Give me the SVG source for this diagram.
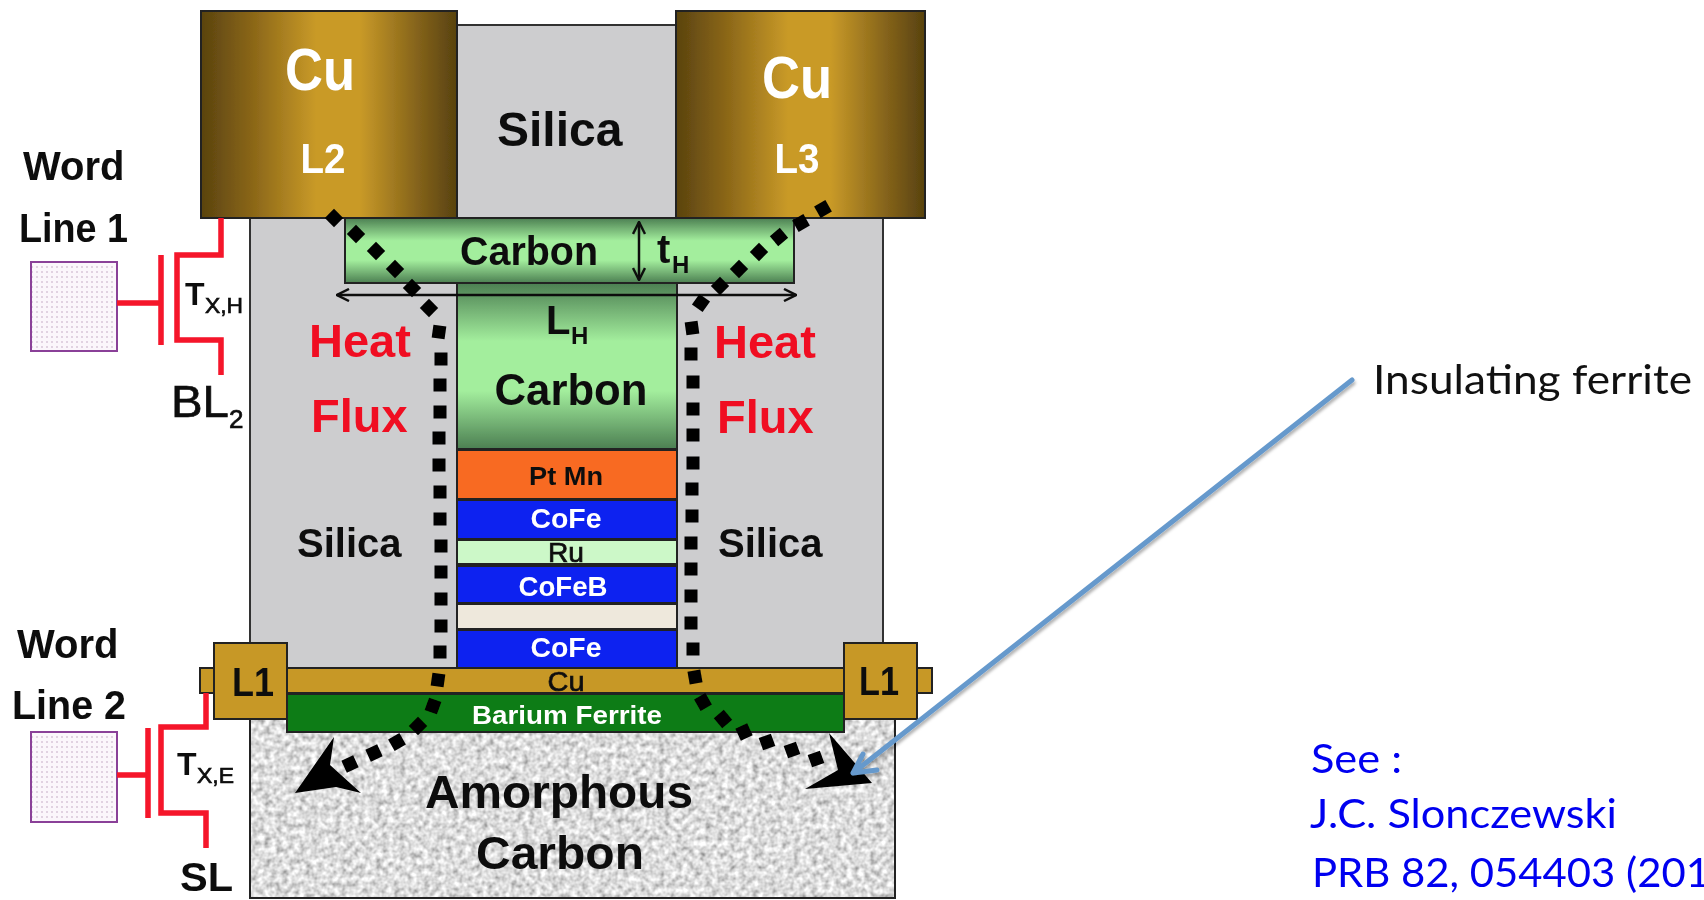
<svg xmlns="http://www.w3.org/2000/svg" xmlns:xlink="http://www.w3.org/1999/xlink" width="1704" height="900" viewBox="0 0 1704 900">
<style>
text{font-family:"Liberation Sans",Arial,sans-serif;font-weight:bold;fill:#111}
.w{fill:#fff}
.r{fill:#f01020}
.med{font-weight:normal;stroke:#111;stroke-width:.7}
.c{font-family:Lato,"Open Sans",sans-serif;font-weight:normal;font-size:40px}
.b{fill:#0000f0}
.m{text-anchor:middle}
.edge{stroke:#222;stroke-width:2}
.red{fill:none;stroke:#f5142a;stroke-width:5.5}
.dim{fill:none;stroke:#111;stroke-width:2.5}
.d{fill:#000}
</style>
<defs>
<linearGradient id="cu"><stop offset="0" stop-color="#5a430f"/><stop offset=".2" stop-color="#8a6618"/><stop offset=".45" stop-color="#c99a28"/><stop offset=".62" stop-color="#c99a28"/><stop offset=".85" stop-color="#83621a"/><stop offset="1" stop-color="#58420f"/></linearGradient>
<linearGradient id="gr" x2="0" y2="1"><stop offset="0" stop-color="#4c7f52"/><stop offset=".35" stop-color="#a3ee9d"/><stop offset=".65" stop-color="#a3ee9d"/><stop offset="1" stop-color="#4c7f52"/></linearGradient>
<pattern id="dots" width="5" height="5" patternUnits="userSpaceOnUse"><rect width="5" height="5" fill="#fbf6fb"/><circle cx="2" cy="2" r="1" fill="#d9c6d9"/></pattern>
<filter id="noise" x="0" y="0" width="100%" height="100%"><feTurbulence type="fractalNoise" baseFrequency=".17" numOctaves="2" seed="4"/><feColorMatrix values="1.1 0 0 0 .17 1.1 0 0 0 .17 1.1 0 0 0 .17 0 0 0 0 1"/></filter>
<filter id="soft" x="0" y="0" width="100%" height="100%" filterUnits="userSpaceOnUse" primitiveUnits="userSpaceOnUse"><feGaussianBlur stdDeviation=".6"/></filter>
<filter id="shadow" x="-5%" y="-5%" width="110%" height="110%"><feDropShadow dx="1" dy="3" stdDeviation="1.5" flood-color="#000" flood-opacity=".3"/></filter>
<rect id="p" x="-6.5" y="-6.5" width="13" height="13"/>
<marker id="open" markerWidth="14" markerHeight="14" refX="13" refY="7" orient="auto-start-reverse" markerUnits="userSpaceOnUse"><path d="M1 1L13 7L1 13" fill="none" stroke="#111" stroke-width="2.5"/></marker>
</defs>
<rect width="1704" height="900" fill="#fff"/>
<g id="figure" filter="url(#soft)">
<g id="silica-main"><rect x="250" y="218" width="633" height="455" fill="#cdcdcf" stroke="#333" stroke-width="2"/><text x="297" y="557" font-size="40">Silica</text><text x="718" y="557" font-size="40">Silica</text></g>
<g id="silica-top"><rect x="457" y="25" width="219" height="193" fill="#cdcdcf" stroke="#333" stroke-width="2"/><text x="497" y="146" font-size="48">Silica</text></g>
<g id="amorphous-carbon"><rect x="250" y="719" width="645" height="179" filter="url(#noise)"/><rect x="250" y="719" width="645" height="179" fill="none" stroke="#222" stroke-width="2"/><text x="425" y="808" font-size="47" textLength="268" lengthAdjust="spacingAndGlyphs">Amorphous</text><text x="476" y="869" font-size="47" textLength="168" lengthAdjust="spacingAndGlyphs">Carbon</text></g>
<g id="cu-l2"><rect x="201" y="11" width="256" height="207" fill="url(#cu)" class="edge"/><text x="320" y="90" font-size="60" class="w m" textLength="70" lengthAdjust="spacingAndGlyphs">Cu</text><text x="323" y="173" font-size="42" class="w m" textLength="45" lengthAdjust="spacingAndGlyphs">L2</text></g>
<g id="cu-l3"><rect x="676" y="11" width="249" height="207" fill="url(#cu)" class="edge"/><text x="797" y="98" font-size="60" class="w m" textLength="70" lengthAdjust="spacingAndGlyphs">Cu</text><text x="797" y="173" font-size="42" class="w m" textLength="45" lengthAdjust="spacingAndGlyphs">L3</text></g>
<g id="carbon-center"><rect x="457" y="283" width="220" height="166" fill="url(#gr)" class="edge"/><text x="571" y="405" font-size="44" class="m" textLength="153" lengthAdjust="spacingAndGlyphs">Carbon</text><text x="546" y="334" font-size="40">L</text><text x="571" y="344" font-size="24">H</text></g>
<g id="carbon-top"><rect x="345" y="218" width="449" height="65" fill="url(#gr)" class="edge"/><text x="460" y="265" font-size="40" textLength="138" lengthAdjust="spacingAndGlyphs">Carbon</text><text x="657" y="263" font-size="40">t</text><text x="672" y="273" font-size="24">H</text></g>
<g id="pt-mn"><rect x="457" y="450" width="220" height="49" fill="#f86a20" class="edge"/><text x="566" y="485" font-size="26" class="m" textLength="74" lengthAdjust="spacingAndGlyphs">Pt Mn</text></g>
<g id="cofe-1"><rect x="457" y="500" width="220" height="39" fill="#0a20f0" class="edge"/><text x="566" y="528" font-size="28" class="w m" textLength="71" lengthAdjust="spacingAndGlyphs">CoFe</text></g>
<g id="ru"><rect x="457" y="540" width="220" height="24" fill="#ccf8c8" class="edge"/><text x="566" y="562" font-size="27" class="m med" textLength="36" lengthAdjust="spacingAndGlyphs">Ru</text></g>
<g id="cofeb"><rect x="457" y="566" width="220" height="37" fill="#0a20f0" class="edge"/><text x="563" y="596" font-size="28" class="w m" textLength="89" lengthAdjust="spacingAndGlyphs">CoFeB</text></g>
<g id="spacer"><rect x="457" y="604" width="220" height="25" fill="#eee8dc" class="edge"/></g>
<g id="cofe-2"><rect x="457" y="630" width="220" height="38" fill="#0a20f0" class="edge"/><text x="566" y="657" font-size="28" class="w m" textLength="71" lengthAdjust="spacingAndGlyphs">CoFe</text></g>
<g id="cu-strip"><rect x="200" y="668" width="732" height="25" fill="#c79826" class="edge"/><text x="566" y="691" font-size="27" class="m med" textLength="37" lengthAdjust="spacingAndGlyphs">Cu</text></g>
<g id="barium-ferrite"><rect x="287" y="694" width="557" height="38" fill="#107c12" class="edge"/><text x="472" y="724" font-size="26" class="w" textLength="190" lengthAdjust="spacingAndGlyphs">Barium Ferrite</text></g>
<g id="l1-left"><rect x="214" y="643" width="73" height="76" fill="#c79826" class="edge"/><text x="232" y="696" font-size="41" textLength="42" lengthAdjust="spacingAndGlyphs">L1</text></g>
<g id="l1-right"><rect x="844" y="643" width="73" height="76" fill="#c79826" class="edge"/><text x="859" y="695" font-size="41" textLength="40" lengthAdjust="spacingAndGlyphs">L1</text></g>
<g id="word-line-1"><text x="23" y="180" font-size="40">Word</text><text x="19" y="242" font-size="40" textLength="109" lengthAdjust="spacingAndGlyphs">Line 1</text><rect x="31" y="262" width="86" height="89" fill="url(#dots)" stroke="#8a3f98" stroke-width="2"/></g>
<g id="word-line-2"><text x="17" y="658" font-size="40">Word</text><text x="12" y="719" font-size="40" textLength="114" lengthAdjust="spacingAndGlyphs">Line 2</text><rect x="31" y="732" width="86" height="90" fill="url(#dots)" stroke="#8a3f98" stroke-width="2"/></g>
<g id="labels-left">
<text x="185" y="305" font-size="32">T</text><text x="205" y="313" font-size="22" class="med" textLength="38" lengthAdjust="spacingAndGlyphs">X,H</text>
<text x="171" y="417" font-size="44" class="med" textLength="58" lengthAdjust="spacingAndGlyphs">BL</text><text x="229" y="428" font-size="26" class="med">2</text>
<text x="177" y="775" font-size="32">T</text><text x="197" y="783" font-size="22" class="med" textLength="37" lengthAdjust="spacingAndGlyphs">X,E</text>
<text x="180" y="891" font-size="40" textLength="53" lengthAdjust="spacingAndGlyphs">SL</text>
</g>
<g id="heat-flux"><text x="309" y="357" font-size="47" class="r">Heat</text><text x="311" y="432" font-size="47" class="r">Flux</text><text x="714" y="358" font-size="47" class="r">Heat</text><text x="717" y="433" font-size="47" class="r">Flux</text></g>
<g id="connectors">
<path class="red" d="M221 218V255H177V340H221V375"/><path class="red" d="M161 255V345M117 303H161"/>
<path class="red" d="M206 693V727H161V813H206V848"/><path class="red" d="M148 728V818M117 775H148"/>
<path class="dim" d="M337 295H796" marker-start="url(#open)" marker-end="url(#open)"/>
<path class="dim" d="M639 222V280" marker-start="url(#open)" marker-end="url(#open)"/>
<g id="flux-left" class="d">
<use xlink:href="#p" transform="translate(334 218) rotate(45)"/><use xlink:href="#p" transform="translate(356 234) rotate(45)"/><use xlink:href="#p" transform="translate(376 251) rotate(45)"/><use xlink:href="#p" transform="translate(395 269) rotate(45)"/><use xlink:href="#p" transform="translate(412 288) rotate(45)"/><use xlink:href="#p" transform="translate(429 308) rotate(45)"/><use xlink:href="#p" transform="translate(439 332) rotate(8)"/><use xlink:href="#p" transform="translate(441 359)"/><use xlink:href="#p" transform="translate(440 385)"/><use xlink:href="#p" transform="translate(440 412)"/><use xlink:href="#p" transform="translate(439 438)"/><use xlink:href="#p" transform="translate(439 465)"/><use xlink:href="#p" transform="translate(440 492)"/><use xlink:href="#p" transform="translate(440 519)"/><use xlink:href="#p" transform="translate(441 546)"/><use xlink:href="#p" transform="translate(441 572)"/><use xlink:href="#p" transform="translate(441 599)"/><use xlink:href="#p" transform="translate(441 626)"/><use xlink:href="#p" transform="translate(440 652)"/><use xlink:href="#p" transform="translate(438 680) rotate(8)"/><use xlink:href="#p" transform="translate(433 706) rotate(20)"/><use xlink:href="#p" transform="translate(418 726) rotate(45)"/><use xlink:href="#p" transform="translate(397 742) rotate(60)"/><use xlink:href="#p" transform="translate(374 753) rotate(65)"/><use xlink:href="#p" transform="translate(350 764) rotate(65)"/>
<path d="M295 793L334 737L330 765L361 793L336 787Z"/>
</g>
<g id="flux-right" class="d">
<use xlink:href="#p" transform="translate(823 209) rotate(-30)"/><use xlink:href="#p" transform="translate(801 223) rotate(-30)"/><use xlink:href="#p" transform="translate(779 237) rotate(-40)"/><use xlink:href="#p" transform="translate(759 252) rotate(-45)"/><use xlink:href="#p" transform="translate(739 269) rotate(-45)"/><use xlink:href="#p" transform="translate(720 286) rotate(-45)"/><use xlink:href="#p" transform="translate(701 303) rotate(-55)"/><use xlink:href="#p" transform="translate(692 328) rotate(-8)"/><use xlink:href="#p" transform="translate(691 354)"/><use xlink:href="#p" transform="translate(693 382)"/><use xlink:href="#p" transform="translate(693 409)"/><use xlink:href="#p" transform="translate(693 435)"/><use xlink:href="#p" transform="translate(693 463)"/><use xlink:href="#p" transform="translate(692 489)"/><use xlink:href="#p" transform="translate(692 516)"/><use xlink:href="#p" transform="translate(691 543)"/><use xlink:href="#p" transform="translate(691 569)"/><use xlink:href="#p" transform="translate(691 596)"/><use xlink:href="#p" transform="translate(691 623)"/><use xlink:href="#p" transform="translate(693 649)"/><use xlink:href="#p" transform="translate(695 677) rotate(-10)"/><use xlink:href="#p" transform="translate(703 702) rotate(-30)"/><use xlink:href="#p" transform="translate(723 719) rotate(-40)"/><use xlink:href="#p" transform="translate(744 732) rotate(-25)"/><use xlink:href="#p" transform="translate(767 742) rotate(-20)"/><use xlink:href="#p" transform="translate(792 750) rotate(-20)"/><use xlink:href="#p" transform="translate(816 759) rotate(-20)"/>
<path d="M829 733L872 783L805 789L838 770Z"/>
</g>
</g>
</g>
<g id="pointer"><path d="M1352 380L853 773M877 770L853 773L863 754" fill="none" stroke="#6699cc" stroke-width="5" stroke-linecap="round" stroke-linejoin="round" filter="url(#shadow)"/></g>
<g id="callout"><text class="c" x="1373" y="394" textLength="319" lengthAdjust="spacingAndGlyphs">Insulating ferrite</text></g>
<g id="citation"><text class="c b" x="1311" y="773" textLength="91" lengthAdjust="spacingAndGlyphs">See :</text><text class="c b" x="1310" y="828" textLength="307" lengthAdjust="spacingAndGlyphs">J.C. Slonczewski</text><text class="c b" x="1312" y="887" textLength="398" lengthAdjust="spacingAndGlyphs">PRB 82, 054403 (201</text></g>
</svg>
